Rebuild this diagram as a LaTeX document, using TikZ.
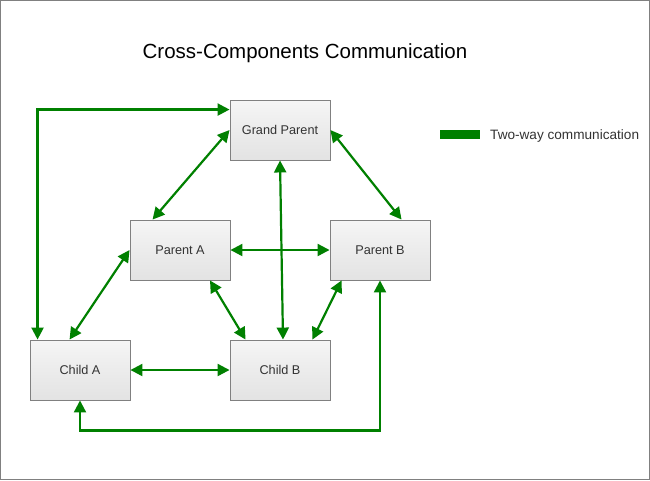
\documentclass[tikz,border=0pt]{standalone}
\usepackage{fontspec}
\setmainfont{Liberation Sans}
\usetikzlibrary{arrows.meta,calc}
\definecolor{linkgreen}{HTML}{008000}
\definecolor{boxline}{HTML}{808080}
\definecolor{boxtext}{HTML}{333333}
\tikzset{
  box/.style={draw=boxline, line width=0.9pt, minimum width=100pt, minimum height=60pt,
    top color=white!96!black, bottom color=white!89!black,
    font=\fontsize{12.7}{15}\selectfont, text=boxtext},
  link/.style={color=linkgreen, draw=linkgreen, line width=2.2pt,
    {Triangle[length=12pt,width=12pt]}-{Triangle[length=12pt,width=12pt]}}
}
\begin{document}
\begin{tikzpicture}[x=1pt,y=-1pt]

  % white page with a grey frame
  \useasboundingbox (0,0) rectangle (650,480);
  \draw [boxline, fill=white] (0.5,0.5) rectangle (649.5,479.5);

  % title
  \node [font=\fontsize{20.5}{24}\selectfont] (title) at (305,53) {Cross-Components Communication};

  % components
  \node [box] (gp) at (280,130) {Grand Parent};
  \node [box] (pa) at (180,250) {Parent A};
  \node [box] (pb) at (380,250) {Parent B};
  \node [box] (ca) at (80,370) {Child A};
  \node [box] (cb) at (280,370) {Child B};

  % two-way links
  \draw [link] (gp.east) -- ($(pb.north west)+(72,0)$);
  \draw [link] ($(ca.north west)+(8,0)$) |- ($(gp.north west)+(0,10)$);
  \draw [link] (gp.west) -- ($(pa.north west)+(23,0)$);
  \draw [link] (gp.south) -- ($(cb.north)+(3,0)$);
  \draw [link] (pa.east) -- (pb.west);
  \draw [link] ($(pa.south)+(30,0)$) -- ($(cb.north west)+(16,0)$);
  \draw [link] ($(pb.south west)+(12,0)$) -- ($(cb.north east)+(-18,0)$);
  \draw [link] (pa.west) -- ($(ca.north west)+(40,0)$);
  \draw [link] (ca.east) -- (cb.west);
  \draw [link] (ca.south) -- ++(0,30) -| (pb.south);

  % legend
  \fill [linkgreen] (440,130) rectangle (480,139);
  \node [anchor=west, inner sep=0pt, font=\fontsize{13.6}{16}\selectfont, text=boxtext] (legend) at (490,136) {Two-way communication};

\end{tikzpicture}
\end{document}
